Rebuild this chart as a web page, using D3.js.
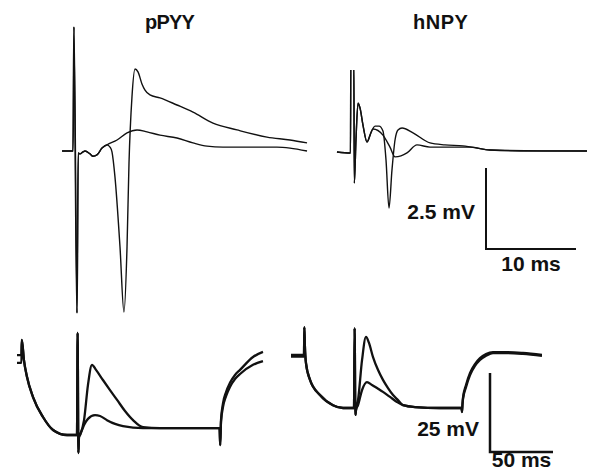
<!DOCTYPE html>
<html>
<head>
<meta charset="utf-8">
<script src="https://cdn.jsdelivr.net/npm/d3@7"></script>
<style>
  html, body { margin: 0; padding: 0; background: #fff; }
  svg text { font-family: 'Liberation Sans', Arial, sans-serif; font-weight: bold; fill: #111; }
</style>
</head>
<body>
<div class="d3-wrapper"></div>
<script>
// recordings: [time (ms from stimulus), voltage (mV from baseline)]
const titles = ['pPYY', 'hNPY'];

// fast sweeps (top row)
const pyyFastA = [[-1.44,0],[-0.2,0],[-0.11,3.83],[0.24,-5.0],[0.37,-0.06],[0.56,-0.09],[0.89,-0.03],[1.11,0],
  [1.67,-0.09],[2.0,-0.16],[2.44,-0.12],[3.0,0.09],[3.56,0.19],[3.89,0.12],[4.11,-0.03],[4.44,-0.8],[5.0,-2.96],[5.44,-4.97],
  [5.78,-2.96],[6.0,-0.37],[6.33,1.67],[6.67,2.53],[7.0,2.44],[7.44,2.07],[7.78,1.88],[8.33,1.73],[9.44,1.64],
  [11.33,1.42],[13.11,1.2],[15.33,0.86],[18.0,0.65],[21.33,0.43],[23.89,0.34],[25.78,0.25]];
const pyyFastB = [[-1.44,0],[-0.24,0],[-0.13,3.83],[0.2,-5.0],[0.35,-0.06],[0.56,-0.09],[0.89,-0.03],[1.11,0],
  [1.67,-0.09],[2.0,-0.16],[2.44,-0.12],[3.0,0.09],[3.56,0.19],[4.67,0.34],[5.78,0.56],[6.89,0.65],[8.0,0.59],[9.44,0.49],
  [11.33,0.4],[13.11,0.25],[14.67,0.15],[16.44,0.12],[19.44,0.12],[22.44,0.12],[23.89,0.09],[25.78,0]];
const npyFastA = [[-1.67,0],[-0.17,-0.03],[-0.13,2.84],[0.2,2.84],[0.26,-0.96],[0.44,0.37],[0.67,1.51],[0.89,1.36],
  [1.22,0.83],[1.67,0.31],[2.0,0.52],[2.56,0.8],[3.0,0.8],[3.44,0.65],[3.78,-0.25],[4.11,-1.73],[4.44,-0.56],
  [4.78,0.37],[5.11,0.68],[5.56,0.74],[6.78,0.59],[8.67,0.28],[10.33,0.22],[12.33,0.19],[15.33,0.06],[18.67,0.03],[26.11,0.03]];
const npyFastB = [[-1.67,0],[-0.17,-0.03],[-0.13,2.84],[0.2,2.84],[0.26,-0.96],[0.44,0.37],[0.67,1.51],[0.89,1.36],
  [1.22,0.83],[1.67,0.31],[2.33,0.71],[3.44,0.52],[4.22,0.15],[4.78,-0.15],[5.44,-0.12],[6.11,-0.03],[7.22,0.22],
  [8.67,0.15],[13.11,0.15],[15.33,0.06],[26.11,0.03]];

// slow sweeps (bottom row)
const pyySlowA = [[-48.4,25.3],[-44.9,25.3],[-44.6,30.1],[-42.9,23.7],[-40.5,18.4],[-35.7,12.0],[-27.8,5.7],[-19.8,1.6],
  [-8.7,0],[-0.8,0],[-0.3,32.3],[0.3,-5.7],[0.8,-0.6],[1.6,0],[4.8,4.7],[7.9,15.8],[11.1,22.2],[14.3,20.6],[19.8,17.4],
  [25.4,14.2],[31.0,11.1],[37.3,7.6],[43.7,4.7],[51.6,2.5],[65.1,2.2],[88.9,2.2],[112.4,2.2],[112.9,-3.2],[113.5,4.7],
  [115.1,10.1],[117.5,13.6],[120.6,16.5],[124.6,19.0],[128.6,20.6],[138.9,24.7],[146.8,26.3]];
const pyySlowB = [[-48.4,22.8],[-44.9,22.8],[-44.6,30.1],[-42.9,23.7],[-40.5,18.4],[-35.7,12.0],[-27.8,5.7],[-19.8,1.6],
  [-8.7,0],[-0.8,0],[-0.3,32.3],[0.3,-5.7],[0.8,-0.6],[1.6,0],[4.8,3.2],[7.9,5.1],[13.5,6.3],[17.5,6.0],[23.0,4.7],
  [29.4,3.5],[35.7,2.8],[51.6,2.2],[88.9,2.2],[112.3,2.2],[112.8,-3.2],[113.5,4.1],[115.1,8.9],[117.5,12.3],
  [120.6,15.2],[124.6,17.7],[128.6,19.3],[138.9,22.2],[146.8,23.4]];
const npySlowA = [[-50.8,16.8],[-40.5,16.8],[-40.2,25.6],[-39.8,19.9],[-38.9,14.2],[-35.7,8.9],[-27.8,4.1],[-17.5,0.9],
  [-9.5,0],[-0.8,0],[-0.3,25.3],[0.3,-2.2],[0.8,-0.6],[2.4,2.5],[5.6,15.2],[8.7,22.5],[11.1,20.6],[14.3,16.1],[18.3,12.0],
  [22.2,8.9],[26.2,6.3],[30.2,4.1],[34.1,2.5],[38.1,0.9],[47.6,0.3],[67.5,0],[84.6,0],[84.9,-1.3],[85.3,1.3],[85.7,3.2],
  [88.1,7.3],[91.3,11.1],[95.2,13.9],[99.2,15.8],[104.0,17.1],[109.5,17.7],[119.0,17.7],[133.3,17.4],[148.4,16.8]];
const npySlowB = [[-50.8,16.3],[-40.5,16.3],[-40.2,25.6],[-39.8,19.9],[-38.9,14.2],[-35.7,8.9],[-27.8,4.1],[-17.5,0.9],
  [-9.5,0],[-0.8,0],[-0.3,25.3],[0.3,-2.2],[0.8,-0.6],[2.4,0.9],[5.6,5.7],[9.5,8.2],[13.5,7.3],[17.5,6.3],[22.2,5.1],
  [27.8,3.5],[33.3,1.9],[38.1,0.9],[47.6,0.3],[67.5,0],[84.6,0],[84.9,-1.3],[85.3,1.0],[85.7,2.8],[88.1,6.6],
  [91.3,10.4],[95.2,13.3],[99.2,15.2],[104.0,16.5],[109.5,17.4],[119.0,17.4],[133.3,17.1],[148.4,16.5]];

// scale bars: [ms, mV]
const fastBar = [10, 2.5];
const slowBar = [50, 25];

const WIDTH = 592, HEIGHT = 472;
const FAST = { pxPerMs: 9, pxPerMv: 32.4, stroke: 1.4 };
const SLOW = { pxPerMs: 1.26, pxPerMv: 3.16, stroke: 2.3 };

const panels = [
  { traces: [pyyFastA, pyyFastB], ox: 75, oy: 151, cfg: FAST, clip: [0, 20, 330, 300] },
  { traces: [npyFastA, npyFastB], ox: 352, oy: 152, cfg: FAST, clip: [330, 70, 262, 200] },
  { traces: [pyySlowA, pyySlowB], ox: 78, oy: 435, cfg: SLOW, clip: [0, 320, 290, 152] },
  { traces: [npySlowA, npySlowB], ox: 355, oy: 408, cfg: SLOW, clip: [290, 320, 302, 152] }
];

const makeScales = (p) => ({
  x: d3.scaleLinear().domain([0, 1]).range([p.ox, p.ox + p.cfg.pxPerMs]),
  y: d3.scaleLinear().domain([0, 1]).range([p.oy, p.oy - p.cfg.pxPerMv])
});

const svg = d3.select('.d3-wrapper').append('svg')
  .attr('width', WIDTH)
  .attr('height', HEIGHT);

const defs = svg.append('defs');

panels.forEach((p, i) => {
  const s = makeScales(p);
  defs.append('clipPath').attr('id', 'clip' + i)
    .append('rect')
    .attr('x', p.clip[0]).attr('y', p.clip[1])
    .attr('width', p.clip[2]).attr('height', p.clip[3]);

  const line = d3.line()
    .x(d => s.x(d[0]))
    .y(d => s.y(d[1]))
    .curve(d3.curveMonotoneX);

  svg.append('g')
    .attr('clip-path', `url(#clip${i})`)
    .selectAll('path')
    .data(p.traces)
    .enter().append('path')
    .attr('d', line)
    .attr('fill', 'none')
    .attr('stroke', '#111')
    .attr('stroke-width', p.cfg.stroke)
    .attr('stroke-linejoin', 'round');
});

// titles
svg.selectAll('.title')
  .data(titles)
  .enter().append('text')
  .attr('class', 'title')
  .attr('x', (d, i) => [145, 413][i])
  .attr('y', 29)
  .style('font-size', '20px')
  .style('letter-spacing', (d, i) => i === 0 ? '-0.8px' : '0.5px')
  .text(d => d);

// scale bars
const drawBar = (bar, cfg, cx, cy, width, mvLabelY, msLabelY) => {
  const sx = d3.scaleLinear().domain([0, 1]).range([0, cfg.pxPerMs]);
  const sy = d3.scaleLinear().domain([0, 1]).range([0, cfg.pxPerMv]);
  svg.append('path')
    .attr('d', `M${cx},${cy - sy(bar[1])}V${cy}H${cx + sx(bar[0])}`)
    .attr('fill', 'none')
    .attr('stroke', '#111')
    .attr('stroke-width', width);
  svg.append('text')
    .attr('x', cx - 11)
    .attr('y', mvLabelY)
    .attr('text-anchor', 'end')
    .style('font-size', '21px')
    .text(bar[1] + ' mV');
  svg.append('text')
    .attr('x', cx + sx(bar[0]) / 2)
    .attr('y', msLabelY)
    .attr('text-anchor', 'middle')
    .style('font-size', '21px')
    .text(bar[0] + ' ms');
};

drawBar(fastBar, FAST, 486, 249, 2, 219, 271);
drawBar(slowBar, SLOW, 490, 452, 2.5, 436, 467);
</script>
</body>
</html>
